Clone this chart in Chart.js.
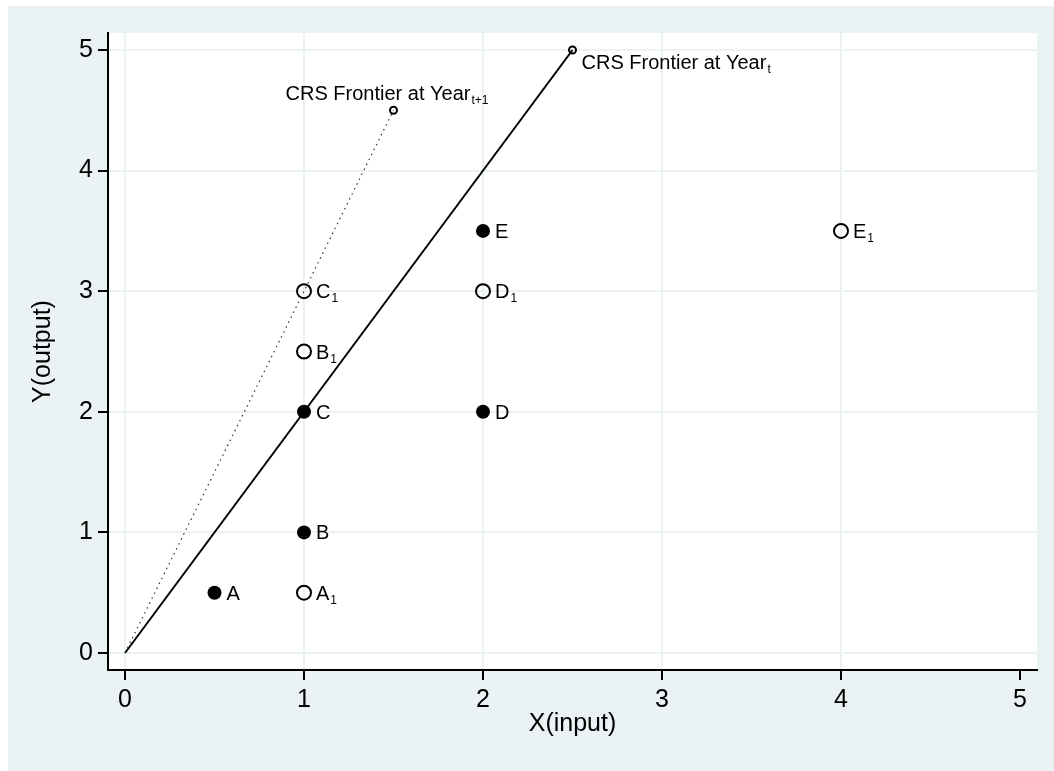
<!DOCTYPE html>
<html>
<head>
<meta charset="utf-8">
<title>CRS Frontier</title>
<script src="https://cdn.jsdelivr.net/npm/chart.js@4/dist/chart.umd.min.js"></script>
<style>
  html, body { margin: 0; padding: 0; background: #fff; }
  canvas { display: block; }
</style>
</head>
<body>
<canvas id="chart" width="1054" height="771"></canvas>
<script>
/* ---- Datos ---- */
const xTicks = [0, 1, 2, 3, 4, 5];
const yTicks = [0, 1, 2, 3, 4, 5];

// DMUs en el año t (marcador relleno)
const filledNames = ['A', 'B', 'C', 'D', 'E'];
const filledX     = [0.5, 1, 1, 2, 2];
const filledY     = [0.5, 1, 2, 2, 3.5];

// DMUs en el año t+1 (marcador hueco)
const hollowNames = ['A', 'B', 'C', 'D', 'E'];
const hollowSub   = ['1', '1', '1', '1', '1'];
const hollowX     = [1, 1, 1, 2, 4];
const hollowY     = [0.5, 2.5, 3, 3, 3.5];

// Fronteras CRS (rectas desde el origen)
const frontierTX  = [0, 2.5];
const frontierTY  = [0, 5];
const frontierT1X = [0, 1.5];
const frontierT1Y = [0, 4.5];
const frontierName = 'CRS Frontier at Year';

const BG    = '#eaf2f3';
const FONT  = "'Liberation Sans', Arial, Helvetica, sans-serif";
const toPts = (xs, ys) => xs.map((x, i) => ({ x, y: ys[i] }));

/* ---- Plugins ---- */
const backgroundPlugin = {
  id: 'stataBg',
  beforeDraw(chart) {
    const { ctx, width, height, chartArea: a } = chart;
    ctx.save();
    ctx.fillStyle = '#fff';
    ctx.fillRect(0, 0, width, height);
    ctx.fillStyle = BG;
    ctx.fillRect(8, 6, width - 8, height - 6);
    ctx.fillStyle = '#fff';
    ctx.fillRect(a.left, a.top, a.right - a.left, a.bottom - a.top);
    ctx.restore();
  },
};

// etiqueta con subíndice; pos: 'right' | 'below' | 'above'
function drawLabel(ctx, px, py, main, sub, pos) {
  ctx.font = `20px ${FONT}`;
  const wMain = ctx.measureText(main).width;
  ctx.font = `12px ${FONT}`;
  const wSub = sub ? ctx.measureText(sub).width : 0;

  let x, y;
  if (pos === 'right') { x = px + 12; y = py + 7; }
  else if (pos === 'below') { x = px + 9; y = py + 19; }
  else { x = px - (wMain + wSub) / 2 - 7; y = py - 10; }

  ctx.fillStyle = '#000';
  ctx.textAlign = 'left';
  ctx.textBaseline = 'alphabetic';
  ctx.font = `20px ${FONT}`;
  ctx.fillText(main, x, y);
  if (sub) {
    ctx.font = `12px ${FONT}`;
    ctx.fillText(sub, x + wMain + 1, y + 4);
  }
}

const labelPlugin = {
  id: 'pointLabels',
  afterDatasetsDraw(chart) {
    const { ctx } = chart;
    const xs = chart.scales.x, ys = chart.scales.y;
    ctx.save();
    filledNames.forEach((n, i) =>
      drawLabel(ctx, xs.getPixelForValue(filledX[i]), ys.getPixelForValue(filledY[i]), n, '', 'right'));
    hollowNames.forEach((n, i) =>
      drawLabel(ctx, xs.getPixelForValue(hollowX[i]), ys.getPixelForValue(hollowY[i]), n, hollowSub[i], 'right'));
    drawLabel(ctx, xs.getPixelForValue(frontierTX[1]), ys.getPixelForValue(frontierTY[1]), frontierName, 't', 'below');
    drawLabel(ctx, xs.getPixelForValue(frontierT1X[1]), ys.getPixelForValue(frontierT1Y[1]), frontierName, 't+1', 'above');
    ctx.restore();
  },
};

/* ---- Ejes ---- */
function axis(ticks, title, range, fixedSize, titlePadding, noGridAt) {
  return {
    type: 'linear',
    min: range[0],
    max: range[1],
    afterBuildTicks: s => { s.ticks = ticks.map(v => ({ value: v })); },
    afterFit: s => {
      if (s.isHorizontal()) s.height = fixedSize; else s.width = fixedSize;
    },
    grid: {
      color: c => (c.tick && c.tick.value === noGridAt ? 'rgba(0,0,0,0)' : BG),
      lineWidth: 2,
      drawTicks: true,
      tickLength: 10,
      tickColor: '#000',
      tickWidth: 2,
    },
    border: { display: true, color: '#000', width: 2 },
    ticks: {
      color: '#000',
      padding: 5,
      font: { family: FONT, size: 25 },
      maxRotation: 0,
      autoSkip: false,
    },
    title: {
      display: true,
      text: title,
      color: '#000',
      font: { family: FONT, size: 25, lineHeight: 1.2 },
      padding: titlePadding,
    },
  };
}

new Chart(document.getElementById('chart'), {
  type: 'scatter',
  data: {
    datasets: [
      {
        data: toPts(frontierT1X, frontierT1Y),
        showLine: true,
        borderColor: '#333',
        borderWidth: 1.2,
        borderDash: [1.5, 4],
        pointRadius: [0, 3.5],
        pointBorderWidth: 2,
        pointBorderColor: '#000',
        pointBackgroundColor: 'rgba(0,0,0,0)',
      },
      {
        data: toPts(frontierTX, frontierTY),
        showLine: true,
        borderColor: '#000',
        borderWidth: 2,
        pointRadius: [0, 3.5],
        pointBorderWidth: 2,
        pointBorderColor: '#000',
        pointBackgroundColor: 'rgba(0,0,0,0)',
      },
      {
        data: toPts(filledX, filledY),
        pointRadius: 7,
        pointBorderWidth: 0,
        pointBackgroundColor: '#000',
        pointBorderColor: '#000',
      },
      {
        data: toPts(hollowX, hollowY),
        pointRadius: 7,
        pointBorderWidth: 2,
        pointBackgroundColor: 'rgba(0,0,0,0)',
        pointBorderColor: '#000',
      },
    ],
  },
  options: {
    responsive: false,
    animation: false,
    devicePixelRatio: 1,
    layout: { padding: { left: 8, top: 33, right: 17, bottom: 0 } },
    plugins: {
      legend: { display: false },
      tooltip: { enabled: false },
    },
    scales: {
      x: axis(xTicks, 'X(input)', [-0.095, 5.095], 101, { top: 0, bottom: 32 }, 5),
      y: axis(yTicks, 'Y(output)', [-0.141, 5.141], 100, { top: 20, bottom: 0 }, null),
    },
  },
  plugins: [backgroundPlugin, labelPlugin],
});
</script>
</body>
</html>
